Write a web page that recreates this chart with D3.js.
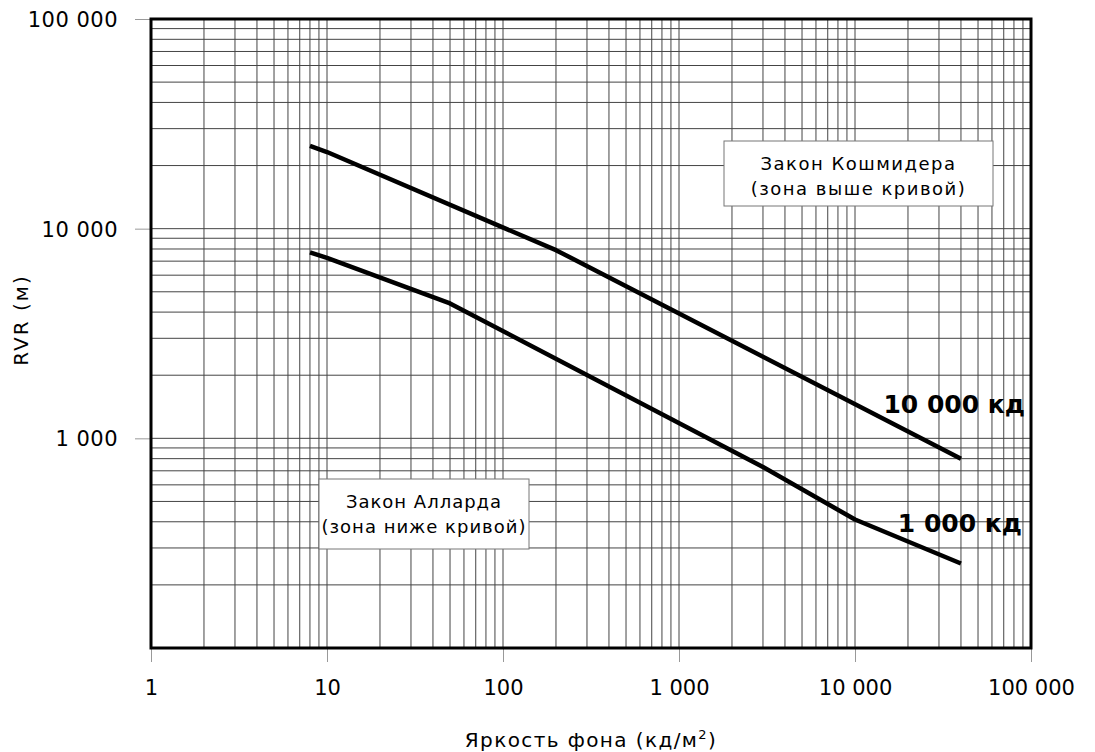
<!DOCTYPE html>
<html>
<head>
<meta charset="utf-8">
<script src="https://cdn.jsdelivr.net/npm/d3@7"></script>
<style>
  body { margin: 0; background: #fff; }
  text { font-family: "DejaVu Sans", sans-serif; }
</style>
</head>
<body>
<div class="chart"></div>
<script>
let w = 1095;
let h = 752;

// data
let xTickValues = [1, 10, 100, 1000, 10000, 100000];
let xTickLabels = ["1", "10", "100", "1 000", "10 000", "100 000"];
let yTickValues = [1000, 10000, 100000];
let yTickLabels = ["1 000", "10 000", "100 000"];

let lum10000 = [8, 10, 200, 40000];
let rvr10000 = [24800, 23200, 7900, 800];
let lum1000 = [8, 10, 50, 3000, 10000, 40000];
let rvr1000 = [7700, 7250, 4400, 730, 410, 253];

let seriesNames = ["10 000 кд", "1 000 кд"];

let plotLeft = 151, plotRight = 1031, plotTop = 19, plotBottom = 648;

let viz = d3.select(".chart")
  .append("svg")
    .attr("width", w)
    .attr("height", h);

viz.append("rect").attr("width", w).attr("height", h).attr("fill", "#fff");

let x = d3.scaleLog().domain([1, 100000]).range([plotLeft, plotRight]);
let y = d3.scaleLog().domain([100, 100000]).range([plotBottom, plotTop]);

// grid lines at 1..9 of every decade
let xGrid = [];
for (let d = 1; d < 100000; d *= 10) for (let k = 1; k <= 9; k++) xGrid.push(d * k);
let yGrid = [];
for (let d = 100; d < 100000; d *= 10) for (let k = 1; k <= 9; k++) yGrid.push(d * k);

let grid = viz.append("g").attr("class", "grid");
grid.selectAll("line.gx")
  .data(xGrid)
  .enter().append("line")
    .attr("class", "gx")
    .attr("x1", d => x(d)).attr("x2", d => x(d))
    .attr("y1", plotTop).attr("y2", plotBottom)
    .attr("stroke", "#444")
    .attr("stroke-width", 1);
grid.selectAll("line.gy")
  .data(yGrid)
  .enter().append("line")
    .attr("class", "gy")
    .attr("y1", d => y(d)).attr("y2", d => y(d))
    .attr("x1", plotLeft).attr("x2", plotRight)
    .attr("stroke", "#444")
    .attr("stroke-width", 1);

// axes
let xAxis = d3.axisBottom(x)
  .tickValues(xTickValues)
  .tickFormat((d, i) => xTickLabels[i])
  .tickSize(14)
  .tickPadding(18);
let yAxis = d3.axisLeft(y)
  .tickValues(yTickValues)
  .tickFormat((d, i) => yTickLabels[i])
  .tickSize(16)
  .tickPadding(17);

let gx = viz.append("g").attr("transform", "translate(0," + plotBottom + ")").call(xAxis);
let gy = viz.append("g").attr("transform", "translate(" + plotLeft + ",0)").call(yAxis);

[gx, gy].forEach(g => {
  g.select(".domain").remove();
  g.selectAll(".tick line").attr("stroke", "#999").attr("stroke-width", 1);
  g.selectAll(".tick text")
    .attr("font-size", 21)
    .attr("font-family", "DejaVu Sans, sans-serif")
    .attr("fill", "#000");
});
gy.selectAll(".tick text").attr("dy", "0.36em").attr("letter-spacing", 0.5);

// frame
viz.append("rect")
  .attr("x", plotLeft).attr("y", plotTop)
  .attr("width", plotRight - plotLeft).attr("height", plotBottom - plotTop)
  .attr("fill", "none")
  .attr("stroke", "#000")
  .attr("stroke-width", 3);

// curves
let line = d3.line()
  .x(d => x(d[0]))
  .y(d => y(d[1]));

let curves = [d3.zip(lum10000, rvr10000), d3.zip(lum1000, rvr1000)];

viz.append("g").selectAll("path")
  .data(curves)
  .enter().append("path")
    .attr("d", line)
    .attr("fill", "none")
    .attr("stroke", "#000")
    .attr("stroke-width", 4.5)
    .attr("stroke-linejoin", "round");

// curve labels
viz.append("text")
  .attr("x", 1025).attr("y", 413)
  .attr("text-anchor", "end")
  .attr("font-size", 25)
  .attr("font-weight", "bold")
  .attr("fill", "#000")
  .text(seriesNames[0]);
viz.append("text")
  .attr("x", 1022).attr("y", 532)
  .attr("text-anchor", "end")
  .attr("font-size", 25)
  .attr("font-weight", "bold")
  .attr("fill", "#000")
  .text(seriesNames[1]);

// text boxes
function note(x0, y0, bw, bh, lines, ls) {
  let g = viz.append("g");
  g.append("rect")
    .attr("x", x0).attr("y", y0)
    .attr("width", bw).attr("height", bh)
    .attr("fill", "#fff")
    .attr("stroke", "#777")
    .attr("stroke-width", 1);
  lines.forEach((t, i) => {
    g.append("text")
      .attr("x", x0 + bw / 2)
      .attr("y", y0 + 29 + i * 25)
      .attr("text-anchor", "middle")
      .attr("font-size", 18)
      .attr("letter-spacing", ls)
      .attr("fill", "#000")
      .text(t);
  });
}
note(724, 141, 269, 65, ["Закон Кошмидера", "(зона выше кривой)"], 1.5);
note(319, 479, 210, 70, ["Закон Алларда", "(зона ниже кривой)"], 1);

// axis titles
viz.append("text")
  .attr("transform", "translate(28,320) rotate(-90)")
  .attr("text-anchor", "middle")
  .attr("font-size", 20)
  .attr("letter-spacing", 2)
  .attr("fill", "#000")
  .text("RVR (м)");

let xt = viz.append("text")
  .attr("x", 591).attr("y", 747)
  .attr("text-anchor", "middle")
  .attr("font-size", 20)
  .attr("letter-spacing", 1.4)
  .attr("fill", "#000");
xt.append("tspan").text("Яркость фона (кд/м");
xt.append("tspan").attr("font-size", 13).attr("dy", -8).text("2");
xt.append("tspan").attr("dy", 8).text(")");
</script>
</body>
</html>
